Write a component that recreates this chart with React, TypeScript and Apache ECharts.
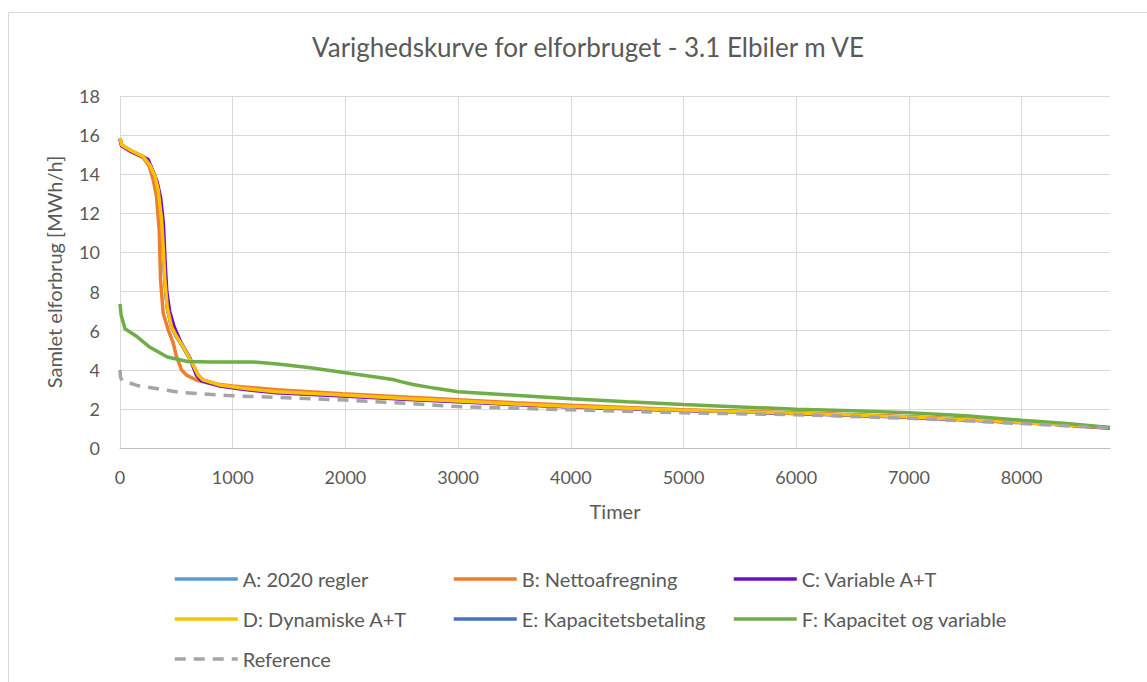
import React, { useEffect, useRef } from "react";
import * as echarts from "echarts";

const titleText = "Varighedskurve for elforbruget - 3.1 Elbiler m VE";
const xAxisTitle = "Timer";
const yAxisTitle = "Samlet elforbrug [MWh/h]";
const xGridTicks = [1000, 2000, 3000, 4000, 5000, 6000, 7000, 8000];

const hoursA = [0, 15, 100, 206, 265, 310, 339, 369, 383, 398, 419, 457, 501, 560, 634, 693, 737, 885, 1091, 1386, 1976, 2566, 3000, 3500, 4000, 4500, 5000, 5500, 6000, 6500, 7000, 7500, 8000, 8400, 8784];
const valuesA = [15.84, 15.5, 15.2, 14.9, 14.47, 13.9, 13.2, 11.66, 10.3, 8.6, 7.2, 6.2, 5.7, 5.18, 4.41, 3.73, 3.48, 3.22, 3.05, 2.88, 2.71, 2.52, 2.4, 2.25, 2.12, 2.03, 1.93, 1.86, 1.78, 1.69, 1.58, 1.46, 1.31, 1.18, 1.03];

const hoursB = [0, 15, 100, 206, 260, 295, 324, 348, 360, 383, 428, 472, 501, 546, 590, 678, 800, 1000, 1386, 1976, 2566, 3000, 3500, 4000, 4500, 5000, 5500, 6000, 6500, 7000, 7500, 8000, 8400, 8784];
const valuesB = [15.8, 15.45, 15.15, 14.85, 14.4, 13.7, 12.86, 11.15, 8.6, 6.9, 6.03, 5.37, 4.67, 3.99, 3.73, 3.48, 3.3, 3.17, 2.98, 2.78, 2.6, 2.47, 2.32, 2.18, 2.07, 1.96, 1.88, 1.8, 1.7, 1.6, 1.47, 1.32, 1.18, 1.03];

const hoursC = [0, 15, 100, 200, 250, 290, 330, 360, 385, 400, 415, 440, 480, 540, 620, 680, 720, 885, 1091, 1386, 1976, 2566, 3000, 3500, 4000, 4500, 5000, 5500, 6000, 6500, 7000, 7500, 8000, 8400, 8784];
const valuesC = [15.8, 15.45, 15.15, 14.9, 14.75, 14.2, 13.6, 12.8, 11.5, 9.5, 8.0, 7.0, 6.2, 5.4, 4.6, 3.7, 3.45, 3.17, 3.0, 2.83, 2.66, 2.48, 2.37, 2.22, 2.1, 2.01, 1.92, 1.85, 1.77, 1.68, 1.57, 1.45, 1.3, 1.17, 1.02];

const hoursD = [0, 15, 100, 206, 265, 310, 339, 369, 383, 398, 419, 457, 501, 560, 634, 693, 737, 885, 1091, 1386, 1976, 2566, 3000, 3500, 4000, 4500, 5000, 5500, 6000, 6500, 7000, 7500, 8000, 8400, 8784];
const valuesD = [15.84, 15.5, 15.2, 14.9, 14.47, 13.9, 13.2, 11.66, 10.3, 8.6, 7.2, 6.2, 5.7, 5.18, 4.41, 3.73, 3.48, 3.22, 3.05, 2.88, 2.71, 2.52, 2.4, 2.25, 2.12, 2.03, 1.93, 1.86, 1.78, 1.69, 1.58, 1.46, 1.31, 1.18, 1.03];

const hoursE = [0, 15, 100, 206, 265, 310, 339, 369, 383, 398, 419, 457, 501, 560, 634, 693, 737, 885, 1091, 1386, 1976, 2566, 3000, 3500, 4000, 4500, 5000, 5500, 6000, 6500, 7000, 7500, 8000, 8400, 8784];
const valuesE = [15.82, 15.48, 15.18, 14.88, 14.45, 13.88, 13.18, 11.6, 10.25, 8.55, 7.15, 6.18, 5.68, 5.16, 4.4, 3.72, 3.47, 3.21, 3.04, 2.87, 2.7, 2.51, 2.39, 2.24, 2.11, 2.02, 1.92, 1.85, 1.77, 1.68, 1.57, 1.45, 1.3, 1.17, 1.02];

const hoursF = [0, 10, 44, 150, 266, 420, 600, 800, 1180, 1400, 1690, 2000, 2300, 2420, 2500, 2600, 2800, 3000, 3500, 4000, 4500, 5000, 5500, 6000, 6500, 7000, 7500, 8000, 8400, 8784];
const valuesF = [7.37, 6.8, 6.1, 5.7, 5.15, 4.65, 4.42, 4.4, 4.4, 4.3, 4.1, 3.85, 3.6, 3.5, 3.38, 3.25, 3.05, 2.88, 2.7, 2.52, 2.36, 2.22, 2.1, 1.98, 1.9, 1.8, 1.65, 1.42, 1.25, 1.05];

const hoursRef = [0, 5, 20, 150, 530, 950, 1570, 2000, 2485, 3000, 4000, 5000, 6000, 7000, 8000, 8784];
const valuesRef = [4.0, 3.6, 3.45, 3.2, 2.85, 2.68, 2.55, 2.45, 2.3, 2.12, 1.95, 1.8, 1.7, 1.52, 1.25, 1.02];

const nameA = "A: 2020 regler";
const nameB = "B: Nettoafregning";
const nameC = "C: Variable A+T";
const nameD = "D: Dynamiske A+T";
const nameE = "E: Kapacitetsbetaling";
const nameF = "F: Kapacitet og variable";
const nameRef = "Reference";

const FONT = "Lato, 'Open Sans', sans-serif";
const TXT = "#595959";
const LINE_W = 3.5;

function pairs(xs: number[], ys: number[]) {
  return xs.map((x, i) => [x, ys[i]]);
}

function lineSeries(name: string, xs: number[], ys: number[], color: string, z: number, dashed = false) {
  return {
    name,
    type: "line",
    data: pairs(xs, ys),
    showSymbol: false,
    symbol: "none",
    z,
    lineStyle: { color, width: LINE_W, type: dashed ? [11, 8] : "solid", cap: "butt" },
    itemStyle: { color },
  };
}

export default function App() {
  const ref = useRef<HTMLDivElement>(null);
  useEffect(() => {
    if (!ref.current) return;
    const chart = echarts.init(ref.current, undefined, { renderer: "svg" });
    const legendBase = {
      orient: "vertical",
      itemWidth: 63,
      itemHeight: 20,
      itemGap: 20,
      top: 564,
      textStyle: { fontFamily: FONT, fontSize: 20, color: TXT },
      itemStyle: { opacity: 0, borderWidth: 0 },
      lineStyle: { width: LINE_W },
      selectedMode: false,
    };
    chart.setOption({
      animation: false,
      backgroundColor: "#ffffff",
      title: {
        text: titleText,
        left: 583,
        top: 29,
        textAlign: "center",
        textStyle: { fontFamily: FONT, fontSize: 26, fontWeight: "normal", color: TXT },
      },
      graphic: [
        {
          type: "rect",
          shape: { x: 8.5, y: 12.5, width: 1200, height: 800 },
          style: { fill: "none", stroke: "#d9d9d9", lineWidth: 1 },
          silent: true,
          z: -10,
        },
      ],
      legend: [
        { ...legendBase, left: 168, data: [nameA, nameD, nameRef] },
        { ...legendBase, left: 447, data: [nameB, nameE] },
        { ...legendBase, left: 727, data: [nameC, nameF] },
      ],
      grid: { left: 120, right: 37, top: 96, bottom: 234, containLabel: false },
      xAxis: {
        type: "value",
        min: 0,
        max: 8784,
        interval: 1000,
        name: xAxisTitle,
        nameLocation: "middle",
        nameGap: 53,
        nameTextStyle: { fontFamily: FONT, fontSize: 20, color: TXT },
        axisLine: { show: true, lineStyle: { color: "#bfbfbf", width: 1 } },
        axisTick: { show: false },
        axisLabel: {
          margin: 20,
          fontFamily: FONT,
          fontSize: 18,
          color: TXT,
          showMaxLabel: false,
          formatter: (v: number) => (v % 1000 === 0 ? String(v) : ""),
        },
        splitLine: { show: false },
      },
      yAxis: {
        type: "value",
        min: 0,
        max: 18,
        interval: 2,
        name: yAxisTitle,
        nameLocation: "middle",
        nameGap: 56,
        nameTextStyle: { fontFamily: FONT, fontSize: 20, color: TXT },
        axisLine: { show: true, lineStyle: { color: "#d9d9d9", width: 1 } },
        axisTick: { show: false },
        axisLabel: { margin: 20, fontFamily: FONT, fontSize: 18, color: TXT },
        splitLine: { show: true, lineStyle: { color: "#d9d9d9", width: 1 } },
      },
      series: [
        {
          type: "line",
          data: [],
          silent: true,
          z: 0,
          markLine: {
            silent: true,
            symbol: "none",
            label: { show: false },
            lineStyle: { color: "#d9d9d9", width: 1, type: "solid" },
            data: xGridTicks.map((t) => ({ xAxis: t })),
            z: 0,
          },
        },
        lineSeries(nameA, hoursA, valuesA, "#5B9BD5", 2),
        lineSeries(nameE, hoursE, valuesE, "#4472C4", 3),
        lineSeries(nameB, hoursB, valuesB, "#ED7D31", 4),
        lineSeries(nameC, hoursC, valuesC, "#6A0DCC", 5),
        lineSeries(nameD, hoursD, valuesD, "#FFC000", 6),
        lineSeries(nameF, hoursF, valuesF, "#70AD47", 7),
        lineSeries(nameRef, hoursRef, valuesRef, "#A5A5A5", 8, true),
      ],
    });
    return () => chart.dispose();
  }, []);
  return (
    <div
      ref={ref}
      style={{ position: "absolute", left: 0, top: 0, width: 1147, height: 682 }}
    />
  );
}
